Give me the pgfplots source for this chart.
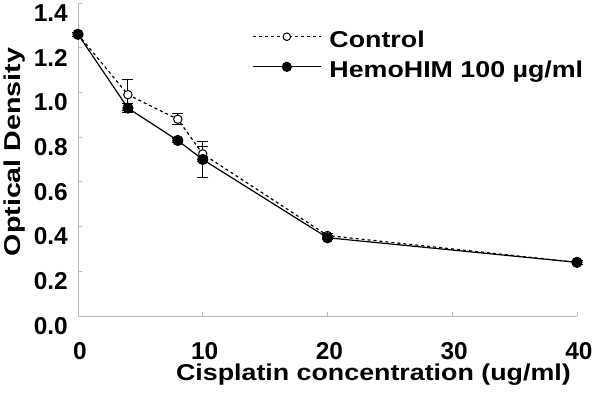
\documentclass[border=0pt]{standalone}
\usepackage{fontspec}
\setmainfont{Liberation Sans}
\usepackage{graphicx}
\usepackage{pgfplots}
\pgfplotsset{compat=1.18}
\usetikzlibrary{calc}
\definecolor{axgray}{RGB}{185,185,185}
\begin{document}
\begin{tikzpicture}
\begin{axis}[
  scale only axis,
  width=499bp, height=313bp,
  at={(0,0)}, anchor=south west,
  xmin=0, xmax=40, ymin=0, ymax=1.4,
  axis x line*=bottom, axis y line*=left,
  axis line style={axgray, line width=0.8pt, -},
  tick style={axgray, line width=0.8pt},
  tick align=inside,
  major tick length=4bp,
  xtick={0,10,20,30,40},
  ytick={0,0.2,0.4,0.6,0.8,1.0,1.2,1.4},
  /pgf/number format/assume math mode=true,
  yticklabel style={/pgf/number format/fixed, /pgf/number format/fixed zerofill, /pgf/number format/precision=1,
     anchor=east, inner sep=0pt, xshift=-10bp, yshift=-10bp},
  xticklabel style={anchor=base, inner sep=0pt, yshift=-43bp, xshift=2bp},
  ticklabel style={font=\fontsize{24.5}{26}\selectfont\bfseries},
  label style={font=\fontsize{23}{26}\selectfont\bfseries},
  xlabel={\scalebox{1.17}[1]{Cisplatin concentration (ug/ml)}},
  ylabel={\scalebox{1.25}[1]{Optical Density}},
  xlabel style={at={(axis description cs:0.592,0)}, anchor=base, inner sep=0pt, yshift=-64bp},
  ylabel style={at={(axis description cs:0,0.524)}, anchor=south, inner sep=0pt, yshift=53bp},
  legend style={draw=none, fill=none, at={(axis cs:13.95,1.277)}, anchor=north west,
    font=\fontsize{23}{26}\selectfont\bfseries, row sep=12bp, inner sep=0pt,
    nodes={inner sep=0pt}, column sep=0pt},
  legend cell align=left,
  legend image code/.code={
    \draw[mark repeat=2, mark phase=2, #1, every mark/.append style={scale=0.9}]
      plot coordinates {(0bp,3bp)(34bp,3bp)(68bp,3bp)};
    \path (76bp,3bp);
  },
  clip=false,
]
\addplot+[black, line width=1.2pt, dash pattern=on 3bp off 3bp,
  mark=*, mark size=4.2bp, mark options={solid, fill=white, draw=black, line width=1pt},
  error bars/.cd, y dir=both, y explicit, error mark options={rotate=90, mark size=5.5bp, solid, black, line width=1pt},
  error bar style={solid, black, line width=1pt}]
  coordinates {
  (0,1.26) +- (0,0.01)
  (4,0.99) +- (0,0.07)
  (8,0.88) +- (0,0.025)
  (10,0.725) +- (0,0.033)
  (20,0.36) +- (0,0.01)
  (40,0.24) +- (0,0.01)
  };
\addlegendentry{\scalebox{1.17}[1]{Control}}
\addplot+[black, line width=1.2pt, solid,
  mark=*, mark size=5bp, mark options={solid, fill=black, draw=black},
  error bars/.cd, y dir=both, y explicit, error mark options={rotate=90, mark size=5.5bp, solid, black, line width=1pt},
  error bar style={solid, black, line width=1pt}]
  coordinates {
  (0,1.26) +- (0,0.01)
  (4,0.93) +- (0,0.02)
  (8,0.785) +- (0,0.01)
  (10,0.70) +- (0,0.08)
  (20,0.35) +- (0,0.01)
  (40,0.24) +- (0,0.01)
  };
\addlegendentry{\scalebox{1.17}[1]{HemoHIM 100 µg/ml}}
\end{axis}
\pgfresetboundingbox
\path[use as bounding box] (-78bp,-82bp) rectangle (522bp,316bp);
\end{tikzpicture}
\end{document}
